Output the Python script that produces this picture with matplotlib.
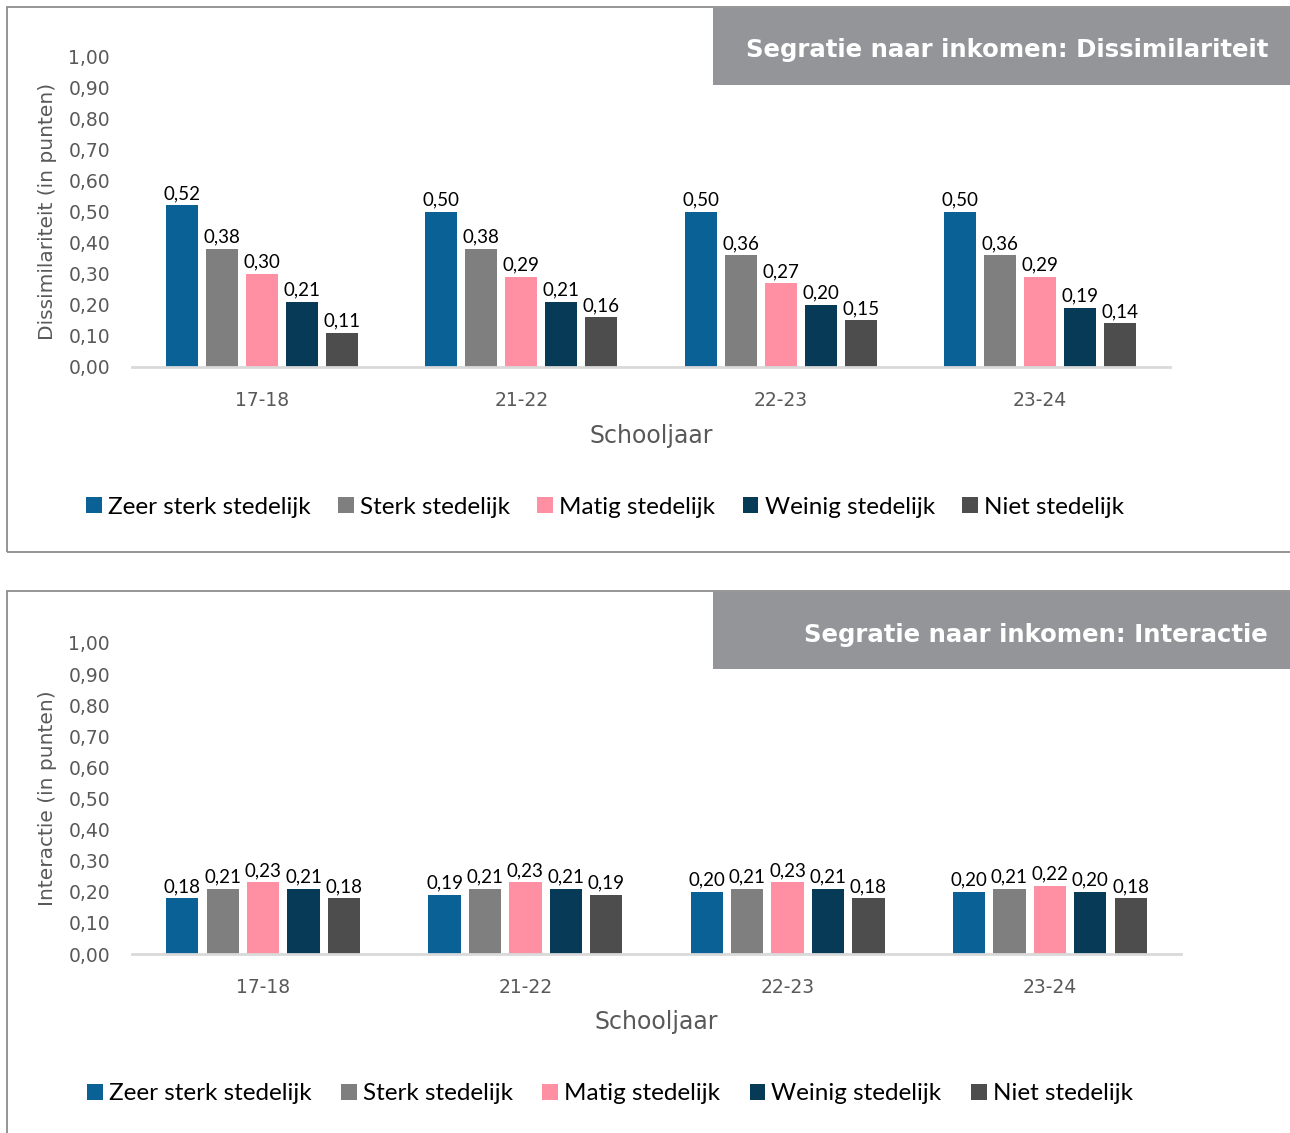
import numpy as np
import matplotlib.pyplot as plt
from matplotlib.patches import Rectangle

# data
years = ["17-18", "21-22", "22-23", "23-24"]
series = ["Zeer sterk stedelijk", "Sterk stedelijk", "Matig stedelijk",
          "Weinig stedelijk", "Niet stedelijk"]
colors = ["#0A6195", "#7F7F7F", "#FF8FA3", "#063A57", "#4D4D4D"]

dissim = {
    "Zeer sterk stedelijk": [0.52, 0.50, 0.50, 0.50],
    "Sterk stedelijk": [0.38, 0.38, 0.36, 0.36],
    "Matig stedelijk": [0.30, 0.29, 0.27, 0.29],
    "Weinig stedelijk": [0.21, 0.21, 0.20, 0.19],
    "Niet stedelijk": [0.11, 0.16, 0.15, 0.14],
}
interact = {
    "Zeer sterk stedelijk": [0.18, 0.19, 0.20, 0.20],
    "Sterk stedelijk": [0.21, 0.21, 0.21, 0.21],
    "Matig stedelijk": [0.23, 0.23, 0.23, 0.22],
    "Weinig stedelijk": [0.21, 0.21, 0.21, 0.20],
    "Niet stedelijk": [0.18, 0.19, 0.18, 0.18],
}

W, H = 1290, 1133
fig = plt.figure(figsize=(W / 100, H / 100), dpi=100)

TICK_GREY = "#595959"
BOX_GREY = "#8C8C8C"


def fx(px):
    return px / W


def fy(py):
    return 1 - py / H


def panel(data, ylabel, title, ax_rect, box_top, box_bot, title_y, leg_y, leg_x, colsp):
    # frame around panel
    fig.add_artist(Rectangle((fx(7), fy(box_bot)), fx(1300 - 7), fy(box_top) - fy(box_bot),
                             transform=fig.transFigure, fill=False,
                             edgecolor=BOX_GREY, lw=1.3))
    # title box
    fig.add_artist(Rectangle((fx(713), fy(box_top + 78)), fx(600), fy(box_top + 1) - fy(box_top + 78),
                             transform=fig.transFigure, facecolor="#939598",
                             edgecolor="none"))
    fig.text(fx(1268), fy(title_y), title, ha="right", va="center",
             color="white", fontsize=17.6, fontweight="bold", family="DejaVu Sans")

    ax = fig.add_axes(ax_rect)
    x = np.arange(len(years))
    step, width = 0.154, 0.123
    handles = []
    for i, s in enumerate(series):
        xs = x + (i - 2) * step
        b = ax.bar(xs, data[s], width=width, color=colors[i], label=s)
        handles.append(b)
        for xi, v in zip(xs, data[s]):
            ax.text(xi, v + 0.01, f"{v:.2f}".replace(".", ","), ha="center",
                    va="bottom", fontsize=13.5, family="Lato", color="black")
    ax.set_xlim(-0.5, len(years) - 0.5)
    ax.set_ylim(0, 1)
    ax.set_yticks(np.arange(0, 1.01, 0.1))
    ax.set_yticklabels([f"{t:.2f}".replace(".", ",") for t in np.arange(0, 1.01, 0.1)])
    ax.set_xticks(x)
    ax.set_xticklabels(years)
    for sp in ["top", "right", "left"]:
        ax.spines[sp].set_visible(False)
    ax.spines["bottom"].set_color("#D9D9D9")
    ax.spines["bottom"].set_linewidth(2)
    ax.tick_params(axis="y", length=0, pad=(ax_rect[0] * W - 110) * 0.72, labelsize=13.5,
                   labelcolor=TICK_GREY)
    ax.tick_params(axis="x", length=0, pad=17, labelsize=13.5, labelcolor=TICK_GREY)
    ax.set_ylabel(ylabel, fontsize=14.5, color=TICK_GREY)
    ax.set_xlabel("Schooljaar", fontsize=17, color=TICK_GREY, labelpad=10)
    ax.yaxis.set_label_coords(-(ax_rect[0] * W - 57) / (ax_rect[2] * W), 0.5)

    fig.legend(handles, series, loc="center", bbox_to_anchor=(fx(leg_x), fy(leg_y)),
               ncol=5, frameon=False, prop={"family": "Lato", "size": 17.5},
               handlelength=0.65, handleheight=0.65, handletextpad=0.25,
               columnspacing=colsp, borderaxespad=0)
    return ax


panel(dissim, "Dissimilariteit (in punten)", "Segratie naar inkomen: Dissimilariteit",
      [fx(132), fy(367), fx(1170 - 132), fy(56) - fy(367)], 7, 552, 50, 507, 605, 1.13)
panel(interact, "Interactie (in punten)", "Segratie naar inkomen: Interactie",
      [fx(132), fy(954), fx(1181 - 132), fy(643) - fy(954)], 591, 1140, 635, 1094, 610, 1.21)

fig.savefig("out.png", dpi=100)
